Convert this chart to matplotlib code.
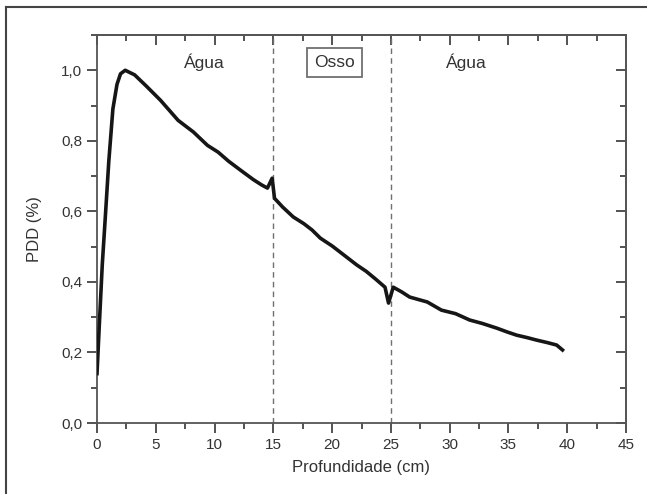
import numpy as np
import matplotlib
matplotlib.use("Agg")
from matplotlib import pyplot as plt
from matplotlib.lines import Line2D
from matplotlib.ticker import MultipleLocator, FuncFormatter

plt.rcParams['font.family'] = ['Liberation Sans', 'DejaVu Sans']

# profundidade (cm) e PDD
depth = [0.0, 0.2, 0.45, 0.7, 1.0, 1.35, 1.7, 2.0, 2.4, 3.2, 4.2, 5.4, 6.9, 8.2, 9.4,
         10.3, 11.2, 12.2, 13.3, 14.0, 14.5, 14.9, 15.1, 15.8, 16.7, 17.6, 18.3, 19.0,
         20.0, 20.7, 21.4, 22.1, 22.9, 23.7, 24.5, 24.8, 25.2, 25.9, 26.6, 28.1, 29.3,
         30.5, 31.7, 32.8, 34.0, 34.9, 35.7, 36.6, 37.4, 38.3, 39.1, 39.6]
pdd = [0.14, 0.28, 0.45, 0.58, 0.74, 0.89, 0.96, 0.99, 1.00, 0.987, 0.955, 0.915, 0.858,
       0.825, 0.787, 0.768, 0.742, 0.717, 0.69, 0.675, 0.666, 0.694, 0.637, 0.612, 0.584,
       0.565, 0.547, 0.524, 0.502, 0.484, 0.466, 0.448, 0.43, 0.408, 0.385, 0.34, 0.385,
       0.372, 0.357, 0.343, 0.32, 0.31, 0.292, 0.282, 0.269, 0.258, 0.249, 0.242, 0.235,
       0.228, 0.221, 0.207]

boundaries = [15, 25]
regions = [("Água", 9.1, False), ("Osso", 20.2, True), ("Água", 31.4, False)]

fig = plt.figure(figsize=(6.47, 4.94), dpi=100)
ax = fig.add_axes([97 / 647, 71 / 494, 529 / 647, 388 / 494])

ax.plot(depth, pdd, color='#161616', lw=2.6, solid_joinstyle='round', zorder=3)
for b in boundaries:
    ax.axvline(b, color='#707070', lw=1.0, ls=(0, (4, 3)), zorder=2)

for txt, xpos, boxed in regions:
    kw = {}
    if boxed:
        kw['bbox'] = dict(boxstyle='square,pad=0.4', fc='white', ec='#707070', lw=1.3)
    ax.text(xpos, 1.023, txt, ha='center', va='center', fontsize=12.5, color='#333333', **kw)

ax.set_xlim(0, 45)
ax.set_ylim(0, 1.1)
ax.xaxis.set_major_locator(MultipleLocator(5))
ax.xaxis.set_minor_locator(MultipleLocator(2.5))
ax.yaxis.set_major_locator(MultipleLocator(0.2))
ax.yaxis.set_minor_locator(MultipleLocator(0.1))
ax.yaxis.set_major_formatter(FuncFormatter(lambda v, p: f"{v:.1f}".replace('.', ',')))
ax.tick_params(which='both', direction='out', colors='#444444', labelcolor='#333333',
               labelsize=11, width=1.3)
ax.tick_params(which='major', length=7)
ax.tick_params(which='minor', length=4)
for s in ax.spines.values():
    s.set_color('#555555')
    s.set_linewidth(1.3)

# eixos espelhados (ticks para dentro)
top = ax.secondary_xaxis('top')
top.xaxis.set_major_locator(MultipleLocator(5))
top.xaxis.set_minor_locator(MultipleLocator(2.5))
top.tick_params(which='both', direction='in', labeltop=False, colors='#444444', width=1.3)
top.tick_params(which='major', length=7)
top.tick_params(which='minor', length=4)
top.spines['top'].set_color('#555555')
top.spines['top'].set_linewidth(1.3)
right = ax.secondary_yaxis('right')
right.yaxis.set_major_locator(MultipleLocator(0.2))
right.yaxis.set_minor_locator(MultipleLocator(0.1))
right.tick_params(which='both', direction='in', labelright=False, colors='#444444', width=1.3)
right.tick_params(which='major', length=7)
right.tick_params(which='minor', length=4)
right.spines['right'].set_color('#555555')
right.spines['right'].set_linewidth(1.3)

ax.set_xlabel("Profundidade (cm)", fontsize=12, color='#333333', labelpad=6)
ax.set_ylabel("PDD (%)", fontsize=12, color='#333333', labelpad=14)

# moldura externa (so topo e esquerda visiveis)
fx, fy = 5.5 / 647, 1 - 7.5 / 494
fig.add_artist(Line2D([fx, 1.0], [fy, fy], transform=fig.transFigure, color='#444444', lw=1.5))
fig.add_artist(Line2D([fx, fx], [0.0, fy], transform=fig.transFigure, color='#444444', lw=1.5))

fig.savefig("out.png", dpi=100)
